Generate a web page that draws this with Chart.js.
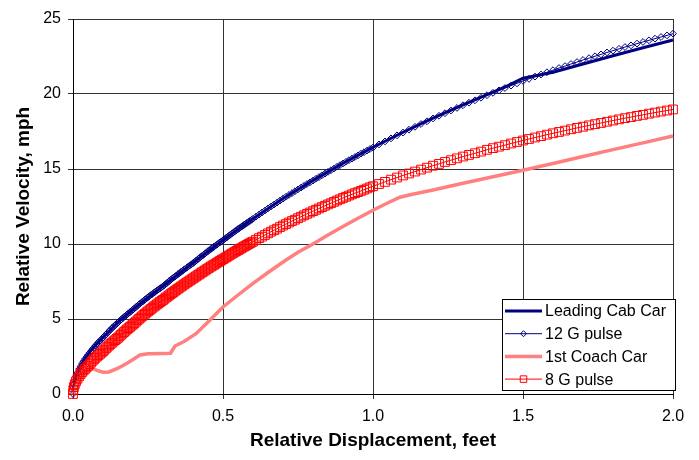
<!DOCTYPE html>
<html><head><meta charset="utf-8">
<script src="https://cdn.jsdelivr.net/npm/chart.js@4/dist/chart.umd.min.js"></script>
<style>html,body{margin:0;padding:0;background:#fff}#wrap{width:699px;height:460px}</style>
</head><body><div id="wrap"><canvas id="c" width="699" height="460"></canvas></div>
<script>
// ---- data ----
const xTickValues = [0, 0.5, 1.0, 1.5, 2.0];
const yTickValues = [0, 5, 10, 15, 20, 25];
const seriesNames = ['Leading Cab Car', '12 G pulse', '1st Coach Car', '8 G pulse'];
const xTitle = 'Relative Displacement, feet';
const yTitle = 'Relative Velocity, mph';

const cabDisp = [0, 0.005, 0.01, 0.02, 0.04, 0.06, 0.08, 0.10, 0.15, 0.20, 0.30, 0.40, 0.50, 0.60, 0.70, 0.80, 0.90, 1.00, 1.10, 1.20, 1.30, 1.40, 1.45, 1.50, 1.55, 1.60, 1.70, 1.80, 1.90, 2.00];
const cabVel  = [0, 0.85, 1.2, 1.7, 2.36, 2.9, 3.36, 3.77, 4.8, 5.64, 7.2, 8.74, 10.26, 11.69, 13.03, 14.24, 15.38, 16.45, 17.45, 18.39, 19.28, 20.12, 20.56, 21.05, 21.25, 21.45, 22.0, 22.55, 23.08, 23.6];

const pulseDisp = [0, 0.001, 0.003, 0.006, 0.01, 0.015, 0.02, 0.03, 0.04, 0.05, 0.06, 0.07, 0.08, 0.09,
 0.10, 0.11, 0.12, 0.13, 0.14, 0.15, 0.16, 0.17, 0.18, 0.19,
 0.20, 0.21, 0.22, 0.23, 0.24, 0.25, 0.26, 0.27, 0.28, 0.29,
 0.30, 0.31, 0.32, 0.33, 0.34, 0.35, 0.36, 0.37, 0.38, 0.39,
 0.40, 0.41, 0.42, 0.43, 0.44, 0.45, 0.46, 0.47, 0.48, 0.49,
 0.50, 0.51, 0.52, 0.53, 0.54, 0.55, 0.56, 0.57, 0.58, 0.59,
 0.60, 0.61, 0.62, 0.63, 0.64, 0.65, 0.66, 0.67, 0.68, 0.69,
 0.70, 0.71, 0.72, 0.73, 0.74, 0.75, 0.76, 0.77, 0.78, 0.79,
 0.80, 0.81, 0.82, 0.83, 0.84, 0.85, 0.86, 0.87, 0.88, 0.89,
 0.90, 0.91, 0.92, 0.93, 0.94, 0.95, 0.96, 0.97, 0.98, 0.99,
 1.00, 1.02, 1.04, 1.06, 1.08, 1.10, 1.12, 1.14, 1.16, 1.18,
 1.20, 1.22, 1.24, 1.26, 1.28, 1.30, 1.32, 1.34, 1.36, 1.38,
 1.40, 1.42, 1.44, 1.46, 1.48, 1.50, 1.52, 1.54, 1.56, 1.58,
 1.60, 1.62, 1.64, 1.66, 1.68, 1.70, 1.72, 1.74, 1.76, 1.78,
 1.80, 1.82, 1.84, 1.86, 1.88, 1.90, 1.92, 1.94, 1.96, 1.98, 2.00];

const pulse12Vel = [0, 0.37, 0.64, 0.90, 1.16, 1.42, 1.65, 2.02, 2.33, 2.60, 2.87, 3.11, 3.34, 3.55,
 3.75, 3.97, 4.19, 4.39, 4.58, 4.77, 4.95, 5.13, 5.30, 5.46,
 5.62, 5.80, 5.97, 6.13, 6.29, 6.45, 6.60, 6.75, 6.90, 7.04,
 7.18, 7.35, 7.52, 7.68, 7.83, 7.99, 8.14, 8.29, 8.43, 8.58,
 8.72, 8.88, 9.05, 9.20, 9.36, 9.52, 9.67, 9.82, 9.96, 10.11,
 10.25, 10.40, 10.55, 10.70, 10.85, 10.99, 11.13, 11.27, 11.41, 11.54,
 11.68, 11.82, 11.96, 12.10, 12.23, 12.37, 12.50, 12.63, 12.76, 12.89,
 13.02, 13.15, 13.27, 13.39, 13.52, 13.64, 13.76, 13.88, 14.00, 14.11,
 14.23, 14.35, 14.46, 14.58, 14.69, 14.81, 14.92, 15.03, 15.15, 15.26,
 15.37, 15.48, 15.59, 15.69, 15.80, 15.91, 16.02, 16.12, 16.23, 16.33,
 16.43, 16.64, 16.84, 17.04, 17.24, 17.43, 17.62, 17.81, 18.00, 18.18,
 18.37, 18.55, 18.72, 18.90, 19.07, 19.25, 19.42, 19.58, 19.75, 19.92,
 20.08, 20.24, 20.40, 20.56, 20.71, 20.87, 21.01, 21.16, 21.30, 21.45,
 21.59, 21.73, 21.86, 22.00, 22.13, 22.27, 22.39, 22.52, 22.64, 22.77,
 22.89, 23.01, 23.13, 23.24, 23.36, 23.47, 23.58, 23.69, 23.80, 23.91, 24.02];

const pulse8Vel = [0, 0.26, 0.46, 0.65, 0.84, 1.02, 1.18, 1.45, 1.67, 1.87, 2.10, 2.31, 2.50, 2.68,
 2.85, 3.05, 3.24, 3.42, 3.59, 3.75, 3.95, 4.13, 4.31, 4.47,
 4.64, 4.82, 5.01, 5.18, 5.35, 5.51, 5.67, 5.83, 5.98, 6.13,
 6.27, 6.43, 6.58, 6.73, 6.88, 7.02, 7.16, 7.30, 7.44, 7.57,
 7.70, 7.84, 7.97, 8.11, 8.24, 8.37, 8.50, 8.62, 8.75, 8.87,
 8.99, 9.11, 9.24, 9.36, 9.48, 9.59, 9.71, 9.83, 9.94, 10.05,
 10.16, 10.28, 10.39, 10.49, 10.60, 10.71, 10.82, 10.92, 11.02, 11.13,
 11.23, 11.33, 11.43, 11.53, 11.62, 11.72, 11.82, 11.91, 12.01, 12.10,
 12.19, 12.28, 12.37, 12.46, 12.55, 12.64, 12.72, 12.81, 12.90, 12.98,
 13.07, 13.15, 13.23, 13.31, 13.39, 13.46, 13.54, 13.62, 13.70, 13.78,
 13.85, 14.00, 14.14, 14.29, 14.43, 14.57, 14.70, 14.83, 14.96, 15.09,
 15.22, 15.34, 15.47, 15.59, 15.71, 15.83, 15.94, 16.05, 16.16, 16.28,
 16.39, 16.49, 16.59, 16.70, 16.80, 16.90, 17.00, 17.10, 17.19, 17.29,
 17.38, 17.47, 17.56, 17.65, 17.74, 17.82, 17.91, 17.99, 18.07, 18.15,
 18.23, 18.31, 18.39, 18.46, 18.54, 18.61, 18.69, 18.76, 18.83, 18.90, 18.97];

// extra, denser samples of the two pulse curves in the lower part (where markers crowd together)
const pulseDispExtra = [0.025, 0.035, 0.045, 0.055, 0.065, 0.075, 0.085, 0.095,
 0.105, 0.115, 0.125, 0.135, 0.145, 0.155, 0.165, 0.175, 0.185, 0.195,
 0.205, 0.215, 0.225, 0.235, 0.245, 0.255, 0.265, 0.275, 0.285, 0.295,
 0.305, 0.315, 0.325, 0.335, 0.345, 0.355, 0.365, 0.375, 0.385, 0.395,
 0.405, 0.415, 0.425, 0.435, 0.445, 0.455, 0.465, 0.475, 0.485, 0.495,
 0.505, 0.515, 0.525, 0.535, 0.545, 0.555, 0.565, 0.575, 0.585, 0.595];
const pulse12Extra = [1.84, 2.18, 2.47, 2.74, 2.99, 3.23, 3.45, 3.65,
 3.86, 4.08, 4.29, 4.49, 4.68, 4.86, 5.04, 5.21, 5.38, 5.54,
 5.71, 5.88, 6.05, 6.21, 6.37, 6.53, 6.68, 6.83, 6.97, 7.11,
 7.27, 7.43, 7.60, 7.76, 7.91, 8.06, 8.21, 8.36, 8.51, 8.65,
 8.80, 8.96, 9.13, 9.28, 9.44, 9.59, 9.74, 9.89, 10.04, 10.18,
 10.33, 10.48, 10.63, 10.77, 10.92, 11.06, 11.20, 11.34, 11.48, 11.61];
const pulse8Extra = [1.32, 1.57, 1.77, 1.99, 2.21, 2.41, 2.59, 2.76,
 2.95, 3.15, 3.33, 3.51, 3.67, 3.85, 4.04, 4.22, 4.39, 4.56,
 4.73, 4.92, 5.09, 5.27, 5.43, 5.59, 5.75, 5.90, 6.05, 6.20,
 6.35, 6.50, 6.66, 6.80, 6.95, 7.09, 7.23, 7.37, 7.50, 7.64,
 7.77, 7.91, 8.04, 8.17, 8.31, 8.43, 8.56, 8.68, 8.81, 8.93,
 9.05, 9.17, 9.30, 9.42, 9.54, 9.65, 9.77, 9.88, 10.00, 10.11];

const coachDisp = [0, 0.02, 0.04, 0.06, 0.08, 0.10, 0.12, 0.15, 0.18, 0.20, 0.223, 0.25, 0.30, 0.325, 0.34, 0.37, 0.41, 0.45, 0.50, 0.55, 0.60, 0.65, 0.71, 0.75, 0.80, 0.85, 0.90, 0.95, 1.00, 1.05, 1.09, 1.12, 1.20, 1.30, 1.40, 1.50, 1.60, 1.70, 1.80, 1.90, 2.00];
const coachVel  = [0, 0.95, 1.5, 1.75, 1.58, 1.45, 1.47, 1.72, 2.05, 2.3, 2.6, 2.68, 2.7, 2.72, 3.2, 3.5, 4.02, 4.8, 5.8, 6.6, 7.38, 8.1, 8.93, 9.45, 10.0, 10.6, 11.17, 11.72, 12.25, 12.75, 13.12, 13.27, 13.6, 14.05, 14.48, 14.92, 15.37, 15.83, 16.29, 16.74, 17.2];

// ---- build ----
const pts = (xs, ys) => xs.map((x, i) => ({x: x, y: ys[i]}));
const merged = (xs, ys, xe, ye) => pts(xs, ys).concat(pts(xe, ye)).sort((a, b) => a.x - b.x);
const FONT = "'Liberation Sans', Arial, sans-serif";

const datasets = [
  {label: seriesNames[0], data: pts(cabDisp, cabVel), borderColor: '#000080', borderWidth: 3,
   pointRadius: 0, order: 4, clip: false},
  {label: seriesNames[1], data: merged(pulseDisp, pulse12Vel, pulseDispExtra, pulse12Extra),
   borderColor: '#000080', borderWidth: 1,
   pointStyle: 'rectRot', pointRadius: 3.4, pointBorderWidth: 1, pointBorderColor: '#000080',
   pointBackgroundColor: 'rgba(0,0,0,0)', order: 3, clip: false},
  {label: seriesNames[2], data: pts(coachDisp, coachVel), borderColor: '#FF8080', borderWidth: 3.5,
   pointRadius: 0, order: 2, clip: false},
  {label: seriesNames[3], data: merged(pulseDisp, pulse8Vel, pulseDispExtra, pulse8Extra),
   borderColor: '#FF0000', borderWidth: 1,
   pointStyle: 'rect', pointRadius: 6.2, pointBorderWidth: 1, pointBorderColor: '#FF0000',
   pointBackgroundColor: 'rgba(0,0,0,0)', order: 1, clip: false}
];

function marker(ctx, style, r, x, y) {
  ctx.beginPath();
  if (style === 'rectRot') {
    ctx.moveTo(x, y - r); ctx.lineTo(x + r, y); ctx.lineTo(x, y + r); ctx.lineTo(x - r, y); ctx.closePath();
  } else {
    const s = r * Math.SQRT1_2;
    ctx.rect(x - s, y - s, 2 * s, 2 * s);
  }
  ctx.stroke();
}

const boxLegend = {
  id: 'boxLegend',
  afterDraw(chart) {
    const ctx = chart.ctx, a = chart.chartArea;
    const bx = a.right - 170.5, by = a.bottom - 94.5, bw = 173, bh = 91;
    ctx.save();
    ctx.fillStyle = '#fff';
    ctx.fillRect(bx, by, bw, bh);
    ctx.strokeStyle = '#000'; ctx.lineWidth = 1;
    ctx.strokeRect(bx, by, bw, bh);
    ctx.font = '16px ' + FONT;
    ctx.textBaseline = 'middle';
    ctx.textAlign = 'left';
    datasets.forEach((d, i) => {
      const y = by + 11.5 + i * 22.7;
      ctx.strokeStyle = d.borderColor;
      ctx.lineWidth = d.borderWidth;
      ctx.beginPath(); ctx.moveTo(bx + 2.5, y); ctx.lineTo(bx + 39.5, y); ctx.stroke();
      if (d.pointRadius > 0) {
        ctx.lineWidth = 1;
        marker(ctx, d.pointStyle, d.pointStyle === 'rect' ? 4.6 : 3, bx + 21, y);
      }
      ctx.fillStyle = '#000';
      ctx.fillText(d.label, bx + 42.5, y + 1);
    });
    ctx.restore();
  }
};

new Chart(document.getElementById('c'), {
  type: 'scatter',
  data: {datasets: datasets.map(d => Object.assign({showLine: true, tension: 0, fill: false}, d))},
  options: {
    responsive: false, animation: false, devicePixelRatio: 1,
    layout: {padding: {top: 19, right: 26, left: 0, bottom: 0}},
    plugins: {legend: {display: false}, tooltip: {enabled: false}},
    scales: {
      x: {
        type: 'linear', min: 0, max: 2,
        afterBuildTicks: s => { s.ticks = xTickValues.map(v => ({value: v})); },
        ticks: {color: '#000', font: {family: FONT, size: 16}, padding: 8,
                callback: v => Number(v).toFixed(1), maxRotation: 0},
        grid: {color: '#333', lineWidth: 1, tickLength: 5, drawTicks: true},
        border: {color: '#000', width: 1},
        title: {display: true, text: xTitle, color: '#000',
                font: {family: FONT, size: 19, weight: 'bold'}, padding: {top: 0, bottom: 7.6}},
        afterFit: s => { s.height = 66; }
      },
      y: {
        type: 'linear', min: 0, max: 25,
        afterBuildTicks: s => { s.ticks = yTickValues.map(v => ({value: v})); },
        ticks: {color: '#000', font: {family: FONT, size: 16}, padding: 7},
        grid: {color: '#333', lineWidth: 1, tickLength: 5, drawTicks: true},
        border: {color: '#000', width: 1},
        title: {display: true, text: yTitle, color: '#000',
                font: {family: FONT, size: 19, weight: 'bold'}, padding: {top: 12.6, bottom: 0}},
        afterFit: s => { s.width = 73; }
      }
    }
  },
  plugins: [boxLegend]
});
</script></body></html>
